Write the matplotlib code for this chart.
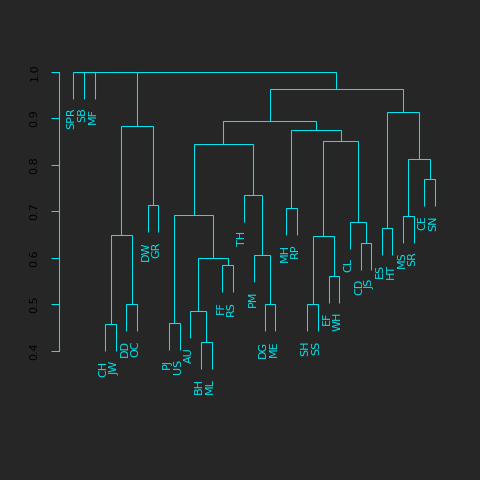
import matplotlib
matplotlib.use("Agg")
import matplotlib.pyplot as plt

# ---- data ----
labels = ["SPR", "SB", "MF", "CH", "JW", "DD", "OC", "DW", "GR", "PJ", "US", "AU",
          "BH", "ML", "FF", "RS", "TH", "PM", "DG", "ME", "MH", "RP", "SH", "SS",
          "EF", "WH", "CL", "CD", "JS", "ES", "HT", "MS", "SR", "CE", "SN"]
# merges: strings are leaves, ints refer to an earlier merge (0-based)
merge_left = ["CH", "DD", 0, "DW", 2, "PJ", "BH", "AU", "FF", 7, 5, "DG", "PM", "TH", 10,
              "MH", "SH", "EF", 16, "CD", "CL", 18, 15, 14, "ES", "MS", "CE", 25, 24, 23,
              "SPR", 30, 31, 32]
merge_right = ["JW", "OC", 1, "GR", 3, "US", "ML", 6, "RS", 8, 9, "ME", 11, 12, 13,
               "RP", "SS", "WH", 17, "JS", 19, 20, 21, 22, "HT", "SR", "SN", 26, 27, 28,
               "SB", "MF", 4, 29]
merge_height = [0.457, 0.500, 0.650, 0.713, 0.883, 0.461, 0.420, 0.485, 0.584, 0.599,
                0.693, 0.500, 0.607, 0.736, 0.844, 0.708, 0.500, 0.562, 0.646, 0.633,
                0.678, 0.852, 0.874, 0.895, 0.665, 0.691, 0.769, 0.812, 0.913, 0.962,
                1.0, 1.0, 1.0, 1.0]
y_ticks = [0.4, 0.5, 0.6, 0.7, 0.8, 0.9, 1.0]

# ---- style ----
BG = "#262626"
LINE = "#00E5EE"
LW = 0.75
FS = 8.0
hang = 0.1 * (max(merge_height) - min(merge_height))

fig = plt.figure(figsize=(4.8, 4.8), dpi=100, facecolor=BG)
ax = fig.add_axes([0.1225, 0.0748, 0.814, 0.7952])
ax.set_facecolor(BG)
n = len(labels)
ax.set_xlim(1 - 0.04 * (n - 1), n + 0.04 * (n - 1))
ax.set_ylim(0.2, 1.02)

leaf_x = {lab: i + 1 for i, lab in enumerate(labels)}
node_x = []

def child_pos(c, parent_h):
    if isinstance(c, str):
        return leaf_x[c], parent_h - hang, True
    return node_x[c], merge_height[c], False

for k, (a, b, h) in enumerate(zip(merge_left, merge_right, merge_height)):
    xa, ya, la = child_pos(a, h)
    xb, yb, lb = child_pos(b, h)
    ax.plot([xa, xa, xb, xb], [ya, h, h, yb], color=LINE, lw=LW,
            solid_joinstyle="miter", solid_capstyle="butt", clip_on=False)
    for (c, xc, yc, isleaf) in ((a, xa, ya, la), (b, xb, yb, lb)):
        if isleaf:
            ax.annotate(c, xy=(xc, yc), xytext=(-1.2, -6.5), textcoords="offset points",
                        rotation=90, ha="center", va="top", color=LINE,
                        fontsize=FS, family="DejaVu Sans", annotation_clip=False)
    node_x.append((xa + xb) / 2)

for s in ["top", "right", "bottom"]:
    ax.spines[s].set_visible(False)
ax.spines["left"].set_color(LINE)
ax.spines["left"].set_linewidth(LW)
ax.spines["left"].set_bounds(0.4, 1.0)
ax.set_xticks([])
ax.set_yticks(y_ticks)
ax.set_yticklabels([f"{t:.1f}" for t in y_ticks], rotation=90, va="center",
                   color="#000000", fontsize=FS)
ax.tick_params(axis="y", length=5.8, width=LW, color=LINE, pad=8)

fig.savefig("out.png", dpi=100, facecolor=BG)
